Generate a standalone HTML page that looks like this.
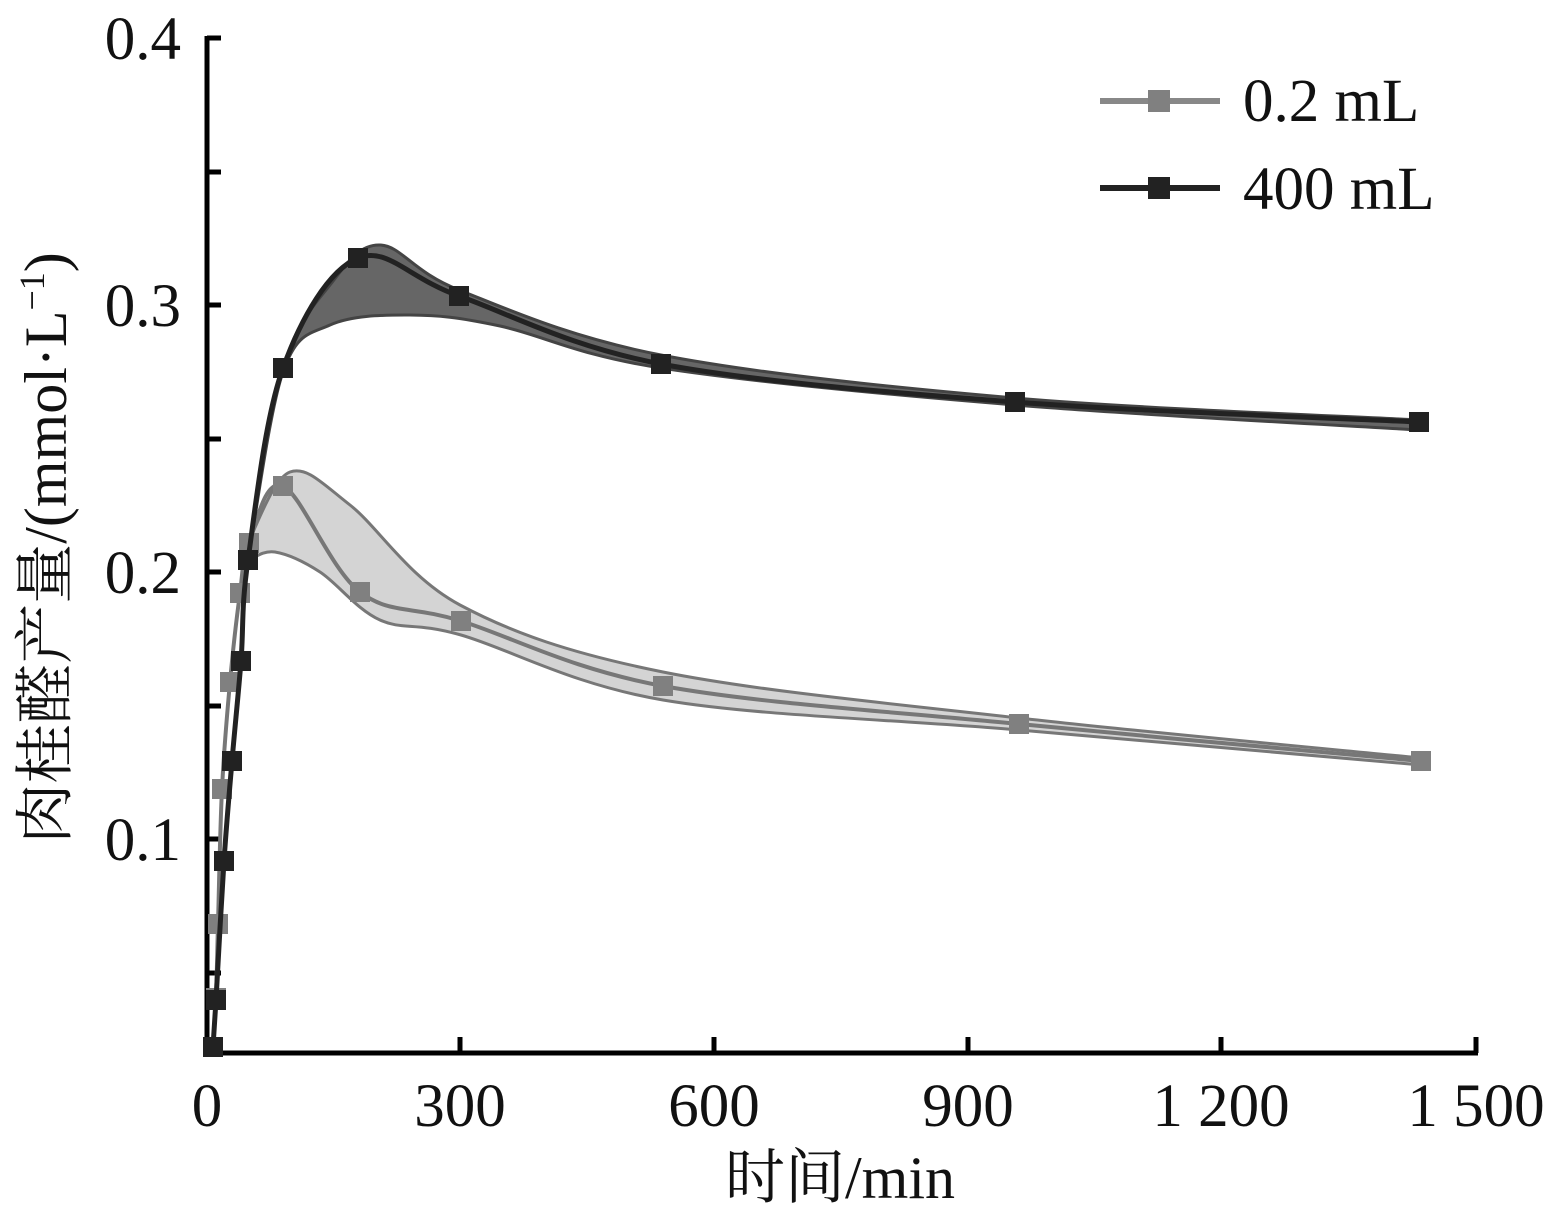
<!DOCTYPE html><html><head><meta charset="utf-8"><style>body{margin:0;background:#fff}svg{display:block}text{font-family:"Liberation Serif","Noto Serif CJK SC",serif;fill:#111}</style></head><body>
<svg id="s" width="1559" height="1215" xmlns="http://www.w3.org/2000/svg">
<g font-size="61" text-anchor="end">
<text x="181" y="59">0.4</text><text x="181" y="326">0.3</text><text x="181" y="593">0.2</text><text x="181" y="860">0.1</text>
</g>
<g font-size="61" text-anchor="middle">
<text x="207" y="1126">0</text><text x="460" y="1126">300</text><text x="714" y="1126">600</text><text x="968" y="1126">900</text><text x="1221" y="1126">1 200</text><text x="1476" y="1126">1 500</text>
<text x="840" y="1198" font-size="60">时间/min</text>
<text transform="translate(66,548) rotate(-90)" font-size="60">肉桂醛产量/(mmol·L<tspan font-size="36" dy="-22">−1</tspan><tspan dy="22">)</tspan></text>
</g>
<g stroke="#000" stroke-width="5" fill="none">
<path d="M207,36V1053H1478"/>
<path d="M207,38h14M207,172h14M207,305h14M207,439h14M207,572h14M207,706h14M207,839h14M207,973h14"/>
<path d="M460,1053v-16M714,1053v-16M968,1053v-16M1221,1053v-16M1476,1053v-16"/>
</g>
<g id="plot"></g>
<g>
<path d="M1100,101H1220" stroke="#888" stroke-width="6"/><rect x="1148" y="90" width="22" height="22" fill="#808080"/>
<path d="M1100,188H1220" stroke="#222" stroke-width="6"/><rect x="1148" y="177" width="22" height="22" fill="#222"/>
<text x="1243" y="121" font-size="61">0.2 mL</text><text x="1243" y="209" font-size="61">400 mL</text>
</g>
</svg>
<script>
function cr(p){let d="M"+p[0][0]+","+p[0][1];for(let i=0;i<p.length-1;i++){const a=p[i-1]||p[i],b=p[i],c=p[i+1],e=p[i+2]||c;d+=`C${b[0]+(c[0]-a[0])/6},${b[1]+(c[1]-a[1])/6} ${c[0]-(e[0]-b[0])/6},${c[1]-(e[1]-b[1])/6} ${c[0]},${c[1]}`;}return d;}
const dark=[[213,1047],[216,1000],[224,861],[232,761],[241,661],[248,560],[283,368],[358,258],[459,296],[661,364],[1015,402],[1419,422]];
const light=[[213,1047],[216,998],[218,924],[222,789],[230,682],[240,593],[249,543],[283,486],[360,592],[461,621],[663,686],[1019,724],[1421,761]];
const dU=[[248,560],[283,368],[330,285],[380,245],[459,290],[661,355],[1015,398],[1419,420]];
const dL=[[1419,430],[1015,405],[661,368],[500,326],[410,315],[330,325],[283,372],[248,560]];
const lU=[[249,540],[290,472],[350,505],[460,605],[663,672],[1019,718],[1421,758]];
const lL=[[1421,765],[1019,730],[663,700],[461,635],[380,620],[320,572],[275,552],[249,560]];
let h="";
h+=`<path d="${cr(lU)} L${cr(lL).slice(1)}Z" fill="#d4d4d4" stroke="#777" stroke-width="3"/>`;
h+=`<path d="${cr(light)}" fill="none" stroke="#777" stroke-width="4"/>`;
light.forEach(p=>h+=`<rect x="${p[0]-10}" y="${p[1]-10}" width="20" height="20" fill="#808080"/>`);
h+=`<path d="${cr(dU)} L${cr(dL).slice(1)}Z" fill="#666" stroke="#444" stroke-width="3"/>`;
h+=`<path d="${cr(dark)}" fill="none" stroke="#222" stroke-width="5"/>`;
dark.forEach(p=>h+=`<rect x="${p[0]-10}" y="${p[1]-10}" width="20" height="20" fill="#222"/>`);
document.getElementById("plot").innerHTML=h;
</script>
</body></html>
